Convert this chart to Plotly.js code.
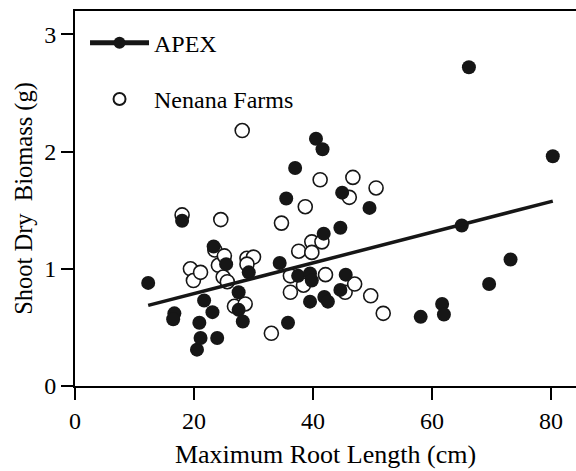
<!DOCTYPE html>
<html>
<head>
<meta charset="utf-8">
<script src="https://cdn.plot.ly/plotly-3.0.1.min.js"></script>
<style>html,body{margin:0;padding:0;background:#fff;}#chart{width:576px;height:471px;}</style>
</head>
<body>
<div id="chart"></div>
<script>
// APEX (filled circles)
var apexX = [12.3, 16.7, 16.5, 18.0, 20.5, 20.9, 21.1, 21.7, 23.1, 23.3, 23.9, 25.4, 27.5, 27.5, 28.2, 29.2,
             34.4, 35.5, 35.8, 37.0, 37.5, 39.5, 39.8, 39.5, 40.5, 41.6, 41.8, 41.9, 42.5, 44.6, 44.9, 44.6,
             45.5, 49.5, 58.1, 61.7, 62.0, 65.0, 66.2, 69.6, 73.2, 80.3];
var apexY = [0.88, 0.62, 0.57, 1.41, 0.31, 0.54, 0.41, 0.73, 0.63, 1.19, 0.41, 1.04, 0.80, 0.65, 0.55, 0.97,
             1.05, 1.60, 0.54, 1.86, 0.94, 0.96, 0.90, 0.72, 2.11, 2.02, 1.30, 0.76, 0.72, 1.35, 1.65, 0.82,
             0.95, 1.52, 0.59, 0.70, 0.61, 1.37, 2.72, 0.87, 1.08, 1.96];
// Nenana Farms (open circles)
var nenanaX = [18.0, 19.4, 19.9, 21.1, 23.5, 24.5, 24.1, 25.1, 24.9, 25.6, 28.1, 28.9, 30.0, 28.9, 26.8, 28.6,
               33.0, 34.7, 36.2, 36.2, 37.6, 38.4, 38.7, 39.8, 39.8, 41.2, 41.5, 42.1, 45.4, 46.1, 46.7, 47.0,
               49.7, 50.6, 51.8];
var nenanaY = [1.46, 1.00, 0.90, 0.97, 1.16, 1.42, 1.03, 1.11, 0.93, 0.89, 2.18, 1.09, 1.10, 1.04, 0.68, 0.70,
               0.45, 1.39, 0.94, 0.80, 1.15, 0.86, 1.53, 1.23, 1.14, 1.76, 1.23, 0.95, 0.80, 1.61, 1.78, 0.87,
               0.77, 1.69, 0.62];
// regression line endpoints
var fitX = [12.3, 80.3];
var fitY = [0.688, 1.578];
var xTicks = [0, 20, 40, 60, 80];
var yTicks = [0, 1, 2, 3];

var FONT = 'Liberation Serif';
var dark = '#161616';

var traces = [
  {x: nenanaX, y: nenanaY, type: 'scatter', mode: 'markers', name: 'Nenana Farms',
   legendrank: 2, legendgroup: 'b',
   marker: {symbol: 'circle', size: 14, color: '#ffffff', line: {color: dark, width: 1.6}}},
  {x: apexX, y: apexY, type: 'scatter', mode: 'markers', name: 'APEX pts', showlegend: false,
   marker: {symbol: 'circle', size: 14, color: dark, line: {width: 0}}},
  {x: fitX, y: fitY, type: 'scatter', mode: 'lines+markers', name: 'APEX',
   legendrank: 1, legendgroup: 'a',
   line: {color: dark, width: 3.5},
   selectedpoints: [],
   unselected: {marker: {opacity: 0}},
   marker: {symbol: 'circle', size: 14, color: dark, line: {width: 0}}}
];

var layout = {
  width: 576, height: 471,
  margin: {l: 75, r: 0, t: 11, b: 85},
  paper_bgcolor: '#fff', plot_bgcolor: '#fff',
  font: {family: FONT, size: 24, color: '#000'},
  showlegend: true,
  legend: {x: 0.02, y: 0.974, xanchor: 'left', yanchor: 'top', bgcolor: 'rgba(0,0,0,0)',
           itemsizing: 'constant', itemwidth: 59, traceorder: 'grouped', tracegroupgap: 22,
           font: {family: FONT, size: 24, color: '#000'}},
  xaxis: {range: [0, 84.2], tickvals: xTicks, ticktext: xTicks.map(String),
          showgrid: false, zeroline: false, showline: true, mirror: true,
          linecolor: '#000', linewidth: 2, ticks: 'outside', ticklen: 12, tickwidth: 2, tickcolor: '#000',
          tickfont: {family: FONT, size: 24, color: '#000'},
          title: {text: 'Maximum Root Length (cm)', font: {family: FONT, size: 26, color: '#000'}, standoff: 12}},
  yaxis: {range: [0, 3.2], tickvals: yTicks, ticktext: yTicks.map(String),
          showgrid: false, zeroline: false, showline: true,
          linecolor: '#000', linewidth: 2, ticks: 'outside', ticklen: 12, tickwidth: 2, tickcolor: '#000',
          tickfont: {family: FONT, size: 24, color: '#000'},
          title: {text: 'Shoot Dry\u00A0 Biomass (g)', font: {family: FONT, size: 24.5, color: '#000'}, standoff: 5}}
};

Plotly.newPlot('chart', traces, layout, {displayModeBar: false, staticPlot: true});
</script>
</body>
</html>
